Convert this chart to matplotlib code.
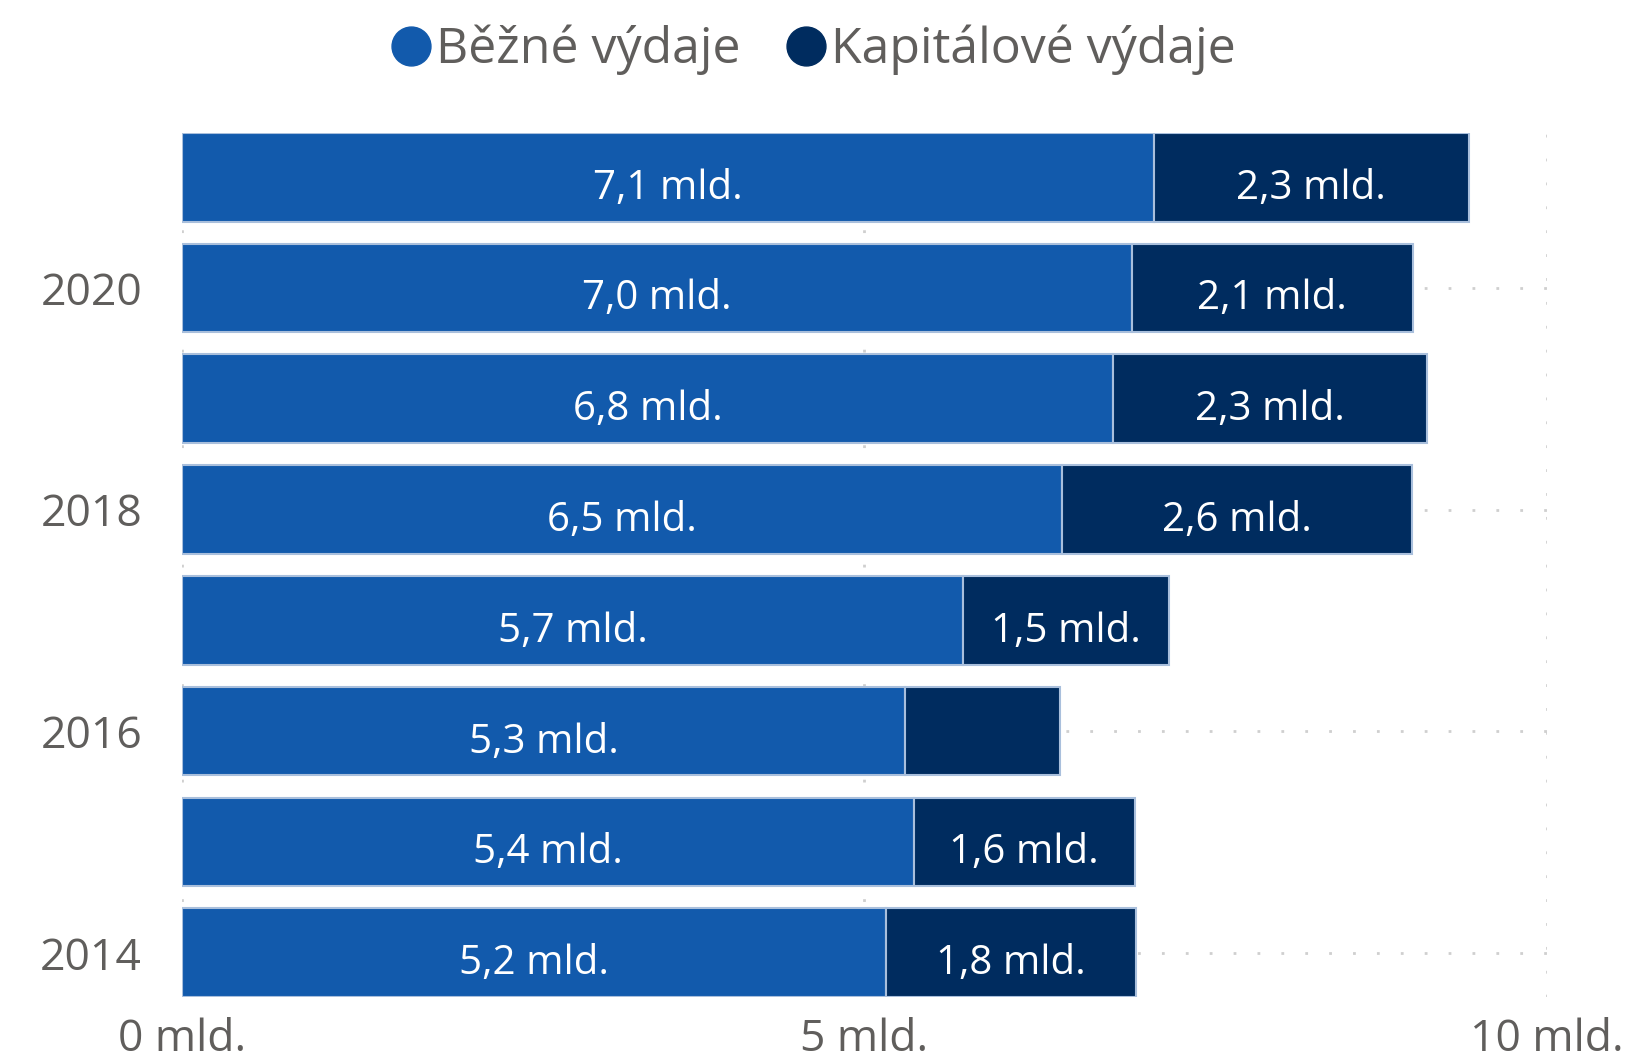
import matplotlib.pyplot as plt
import matplotlib
from matplotlib.lines import Line2D
import numpy as np

matplotlib.rcParams['font.family'] = ['Open Sans', 'DejaVu Sans']

years = [2014, 2015, 2016, 2017, 2018, 2019, 2020, 2021]
bezne = [5.16, 5.36, 5.30, 5.72, 6.45, 6.82, 6.96, 7.12]
kapitalove = [1.83, 1.62, 1.13, 1.51, 2.56, 2.30, 2.06, 2.31]
year_ticks = [2014, 2016, 2018, 2020]
x_ticks = [0, 5, 10]

C_BEZNE = '#125AAC'
C_KAP = '#002C5F'
C_TEXT = '#605E5C'


def fmt(v):
    return f"{v:.1f}".replace('.', ',') + ' mld.'


fig = plt.figure(figsize=(16.28, 10.63), dpi=100)
ax = fig.add_axes([0.112, 0.062, 0.838, 0.813])

y = np.array(years)
ax.barh(y, bezne, 0.8, color=C_BEZNE, edgecolor='#A9BFDC', linewidth=1.5, zorder=3)
ax.barh(y, kapitalove, 0.8, left=bezne, color=C_KAP, edgecolor='#A9BFDC', linewidth=1.5, zorder=3)

# hodnoty do sloupců (u úzkého segmentu se popisek nevejde)
for yy, a, k in zip(years, bezne, kapitalove):
    ax.text(a / 2, yy - 0.1, fmt(a), color='white', fontsize=29, ha='center', va='center', zorder=4)
    if k >= 1.3:
        ax.text(a + k / 2, yy - 0.1, fmt(k), color='white', fontsize=29, ha='center', va='center', zorder=4)

ax.set_xlim(0, 10)
ax.set_ylim(2013.6, 2021.4)
ax.set_xticks(x_ticks)
ax.set_xticklabels([f"{t} mld." for t in x_ticks])
ax.set_yticks(year_ticks)
ax.set_yticklabels([str(t) for t in year_ticks])
ax.tick_params(length=0, labelsize=32, colors=C_TEXT)
ax.tick_params(axis='y', pad=29)
ax.tick_params(axis='x', pad=15)
for s in ax.spines.values():
    s.set_visible(False)
ax.grid(True, color='#CFCFCF', linestyle=(0, (1, 7.6)), linewidth=2, zorder=0)

handles = [Line2D([], [], marker='o', linestyle='', markersize=28, color=C_BEZNE),
           Line2D([], [], marker='o', linestyle='', markersize=28, color=C_KAP)]
fig.legend(handles, ['Běžné výdaje', 'Kapitálové výdaje'], loc='center', bbox_to_anchor=(0.498, 0.953),
           ncol=2, frameon=False, fontsize=36, labelcolor=C_TEXT, handletextpad=0.0,
           columnspacing=0.8, handlelength=1.0)

plt.savefig('out.png', dpi=100)
